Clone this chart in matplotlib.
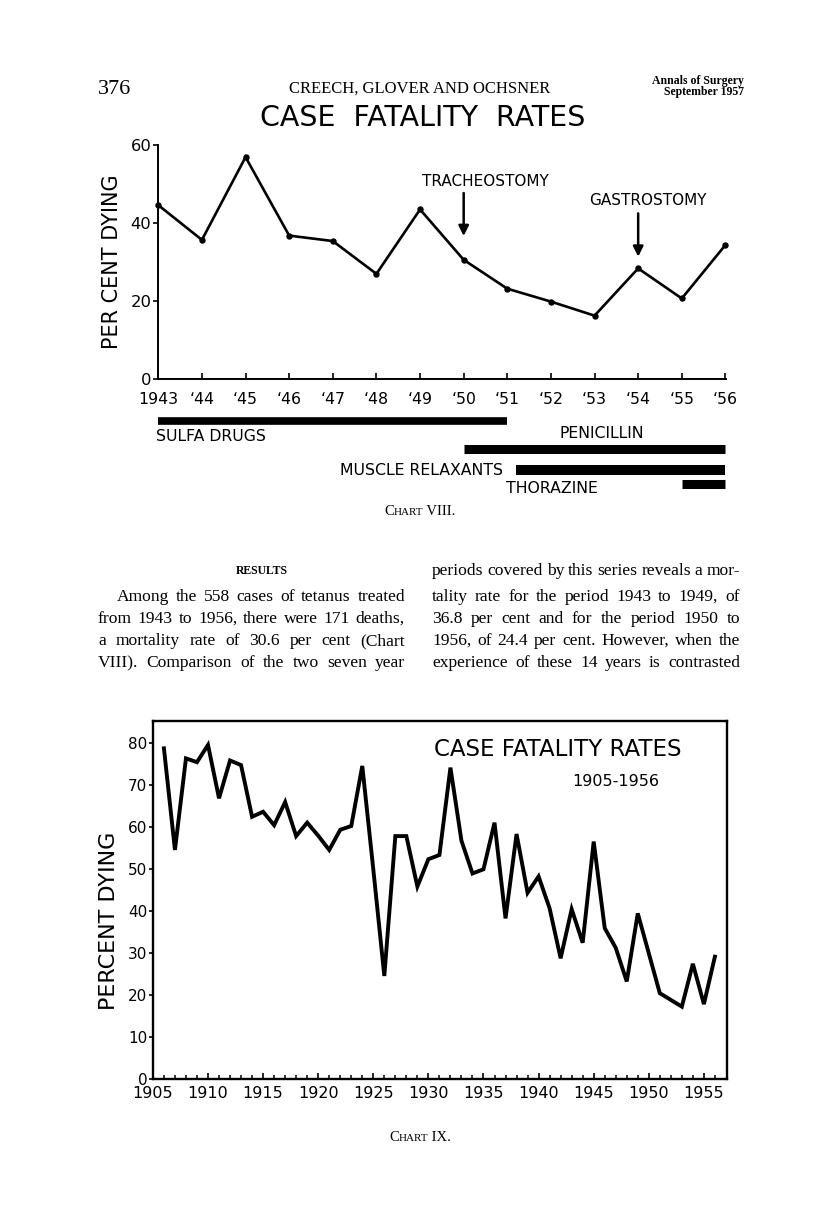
import matplotlib
matplotlib.use("Agg")
import matplotlib.pyplot as plt

# ---------------- data ----------------
years_43 = [1943, 1944, 1945, 1946, 1947, 1948, 1949, 1950, 1951, 1952, 1953, 1954, 1955, 1956]
rate_43 = [44.6, 35.7, 56.9, 36.8, 35.4, 27.0, 43.5, 30.6, 23.2, 19.9, 16.3, 28.4, 20.7, 34.4]
xlabels_43 = ["1943", "\u201844", "\u201845", "\u201846", "\u201847", "\u201848", "\u201849",
              "\u201850", "\u201851", "\u201852", "\u201853", "\u201854", "\u201855", "\u201856"]
yticks_43 = [0, 20, 40, 60]

event_names = ["TRACHEOSTOMY", "GASTROSTOMY"]
event_years = [1950, 1954]

drug_names = ["SULFA DRUGS", "PENICILLIN", "MUSCLE RELAXANTS", "THORAZINE"]
drug_start = [1943, 1950, 1951.2, 1955]
drug_end = [1951, 1956, 1956, 1956]

years_05 = [1906, 1907, 1908, 1909, 1910, 1911, 1912, 1913, 1914, 1915, 1916, 1917, 1918,
            1919, 1920, 1921, 1922, 1923, 1924, 1925, 1926, 1927, 1928, 1929, 1930, 1931,
            1932, 1933, 1934, 1935, 1936, 1937, 1938, 1939, 1940, 1941, 1942, 1943, 1944,
            1945, 1946, 1947, 1948, 1949, 1950, 1951, 1952, 1953, 1954, 1955, 1956]
rate_05 = [78.8, 54.6, 76.4, 75.5, 79.6, 66.9, 75.9, 74.8, 62.5, 63.7, 60.5, 66.0, 57.9,
           61.1, 58.0, 54.6, 59.4, 60.3, 74.6, 50.0, 24.6, 57.9, 57.9, 45.9, 52.4, 53.4,
           74.2, 56.8, 49.0, 50.0, 61.1, 38.3, 58.4, 44.4, 48.3, 40.7, 28.8, 40.5, 32.5,
           56.6, 36.0, 31.3, 23.3, 39.5, 30.0, 20.5, 18.9, 17.3, 27.5, 17.9, 29.2]
xticks_05 = [1905, 1910, 1915, 1920, 1925, 1930, 1935, 1940, 1945, 1950, 1955]
xminor_05 = [1905 + i for i in range(52)]
yticks_05 = [0, 10, 20, 30, 40, 50, 60, 70, 80]

left_lines = ["Among the 558 cases of tetanus treated",
              "from 1943 to 1956, there were 171 deaths,",
              "a mortality rate of 30.6 per cent (Chart",
              "VIII). Comparison of the two seven year"]
right_lines = ["periods covered by this series reveals a mor-",
               "tality rate for the period 1943 to 1949, of",
               "36.8 per cent and for the period 1950 to",
               "1956, of 24.4 per cent. However, when the",
               "experience of these 14 years is contrasted"]

# ---------------- layout helpers ----------------
W, H, DPI = 816, 1224, 100
LET = "DejaVu Sans"
SERIF = "Liberation Serif"
PX = DPI / 72.0

fig = plt.figure(figsize=(W / DPI, H / DPI), dpi=DPI)
fig.patch.set_facecolor("white")
renderer = fig.canvas.get_renderer()


def fx(x):
    return x / W


def fy(y):
    return 1 - y / H


def cap_text(x, yc, s, size, ha="center", family=LET, cap=0.73, **kw):
    base = yc + cap * size * PX / 2
    return fig.text(fx(x), fy(base), s, size=size, ha=ha, va="baseline",
                    family=family, color="black", **kw)


def run_text(xc, base, parts, family=SERIF, weight="normal"):
    ts = [fig.text(0, fy(base), s, size=sz, family=family, weight=weight,
                   va="baseline", ha="left", color="black") for s, sz in parts]
    ws = [t.get_window_extent(renderer).width for t in ts]
    x = xc - sum(ws) / 2
    for t, w in zip(ts, ws):
        t.set_x(fx(x))
        x += w


def justify(line, x0, x1, base, size, family=SERIF):
    words = line.split(" ")
    while True:
        ts = [fig.text(0, fy(base), w, size=size, family=family, va="baseline",
                       ha="left", color="black") for w in words]
        ws = [t.get_window_extent(renderer).width for t in ts]
        gap = (x1 - x0 - sum(ws)) / (len(ws) - 1)
        if gap >= 2.5:
            break
        for t in ts:
            t.remove()
        size -= 0.2
    x = x0
    for t, w in zip(ts, ws):
        t.set_x(fx(x))
        x += w + gap


# ---------------- page header ----------------
fig.text(fx(98), fy(94), "376", size=16, family=SERIF, ha="left", va="baseline")
fig.text(fx(420), fy(93), "CREECH, GLOVER AND OCHSNER", size=12, family=SERIF,
         ha="center", va="baseline")
fig.text(fx(744), fy(84), "Annals of Surgery", size=8.5, family=SERIF, weight="bold",
         ha="right", va="baseline")
fig.text(fx(744), fy(95), "September 1957", size=8.5, family=SERIF, weight="bold",
         ha="right", va="baseline")
cap_text(423, 116, "CASE  FATALITY  RATES", 20.5)

# ---------------- chart VIII ----------------
L1, R1, B1, T1 = 158.3, 726.3, 379.3, 145.0
ax1 = fig.add_axes([fx(L1), fy(B1), (R1 - L1) / W, (B1 - T1) / H])
ax1.plot(years_43, rate_43, color="black", lw=1.9, marker="o", ms=3.6,
         clip_on=False, solid_joinstyle="miter")
ax1.set_xlim(1943, 1956.02)
ax1.set_ylim(0, 60)
for s in ["top", "right"]:
    ax1.spines[s].set_visible(False)
for s in ["left", "bottom"]:
    ax1.spines[s].set_linewidth(1.4)
ax1.set_xticks(years_43, xlabels_43, family=LET, size=11.3)
ax1.set_yticks(yticks_43, [str(v) for v in yticks_43], family=LET, size=11.8)
ax1.tick_params(axis="x", direction="in", length=4, width=1.2, pad=9)
ax1.tick_params(axis="y", direction="out", length=3.5, width=1.2, pad=1.5)
ax1.set_facecolor("none")

cap_text(117.7, 254, "PER CENT DYING", 15, rotation=90, ha="center",
         rotation_mode="anchor")

ev_text_pos = [(1950.5, 50.6), (1954.23, 45.9)]
ev_arrow = [(47.7, 36.7), (42.5, 31.4)]
for name, yr, (tx, ty), (a0, a1) in zip(event_names, event_years, ev_text_pos, ev_arrow):
    ax1.annotate("", xy=(yr, a1), xytext=(yr, a0),
                 arrowprops=dict(arrowstyle="-|>", color="black", lw=1.8,
                                 mutation_scale=15, shrinkA=0, shrinkB=0))
    ax1.text(tx, ty, name, size=11, family=LET, ha="center", va="center")

# drug bars
axb = fig.add_axes([fx(L1), fy(495), (R1 - L1) / W, 85 / H])
axb.set_xlim(1943, 1956.02)
axb.set_ylim(0, 1)
axb.axis("off")
row_y = [0.876, 0.544, 0.294, 0.124]
row_lw = [5.5, 6.5, 7.2, 6.5]
for s, e, y, lw in zip(drug_start, drug_end, row_y, row_lw):
    axb.plot([s, e], [y, y], color="black", lw=lw, solid_capstyle="butt")
lab_pos = [(1942.95, 0.686, "left"), (1953.17, 0.718, "center"),
           (1950.9, 0.294, "right"), (1950.96, 0.082, "left")]
for name, (x, y, ha) in zip(drug_names, lab_pos):
    axb.text(x, y, name, size=11.3, family=LET, ha=ha, va="center")

run_text(420, 515, [("C", 10.5), ("HART", 8), (" VIII.", 10.5)])

# ---------------- body text ----------------
run_text(262, 574, [("RESULTS", 8.5)], weight="bold")
left_base = [601, 623, 645, 667]
for i, (line, b) in enumerate(zip(left_lines, left_base)):
    justify(line, 117 if i == 0 else 98, 405, b, 12.6)
right_base = [575, 601, 623, 645, 667]
for line, b in zip(right_lines, right_base):
    justify(line, 432, 740, b, 12.6)

# ---------------- chart IX ----------------
L2, R2, B2, T2 = 152.9, 726.7, 1079.3, 721.0
ax2 = fig.add_axes([fx(L2), fy(B2), (R2 - L2) / W, (B2 - T2) / H])
ax2.plot(years_05, rate_05, color="black", lw=2.8, solid_joinstyle="miter")
ax2.set_xlim(1905, 1957.07)
ax2.set_ylim(0, 85.3)
for s in ax2.spines.values():
    s.set_linewidth(1.7)
ax2.set_xticks(xticks_05, [str(v) for v in xticks_05], family=LET, size=11.5)
ax2.set_xticks(xminor_05, minor=True)
ax2.set_yticks(yticks_05, [str(v) for v in yticks_05], family=LET, size=11)
ax2.tick_params(axis="x", which="major", direction="in", length=4.5, width=1.2, pad=5)
ax2.tick_params(axis="x", which="minor", direction="in", length=2.6, width=1.1)
ax2.tick_params(axis="y", direction="out", length=3, width=1.2, pad=1)

cap_text(115.4, 913, "PERCENT DYING", 16, rotation=90, ha="center",
         rotation_mode="anchor")
cap_text(557.5, 747.5, "CASE FATALITY RATES", 16.5)
cap_text(616, 780, "1905-1956", 11.5)

run_text(420, 1141, [("C", 10.5), ("HART", 8), (" IX.", 10.5)])

fig.savefig("out.png", dpi=DPI, facecolor="white")
